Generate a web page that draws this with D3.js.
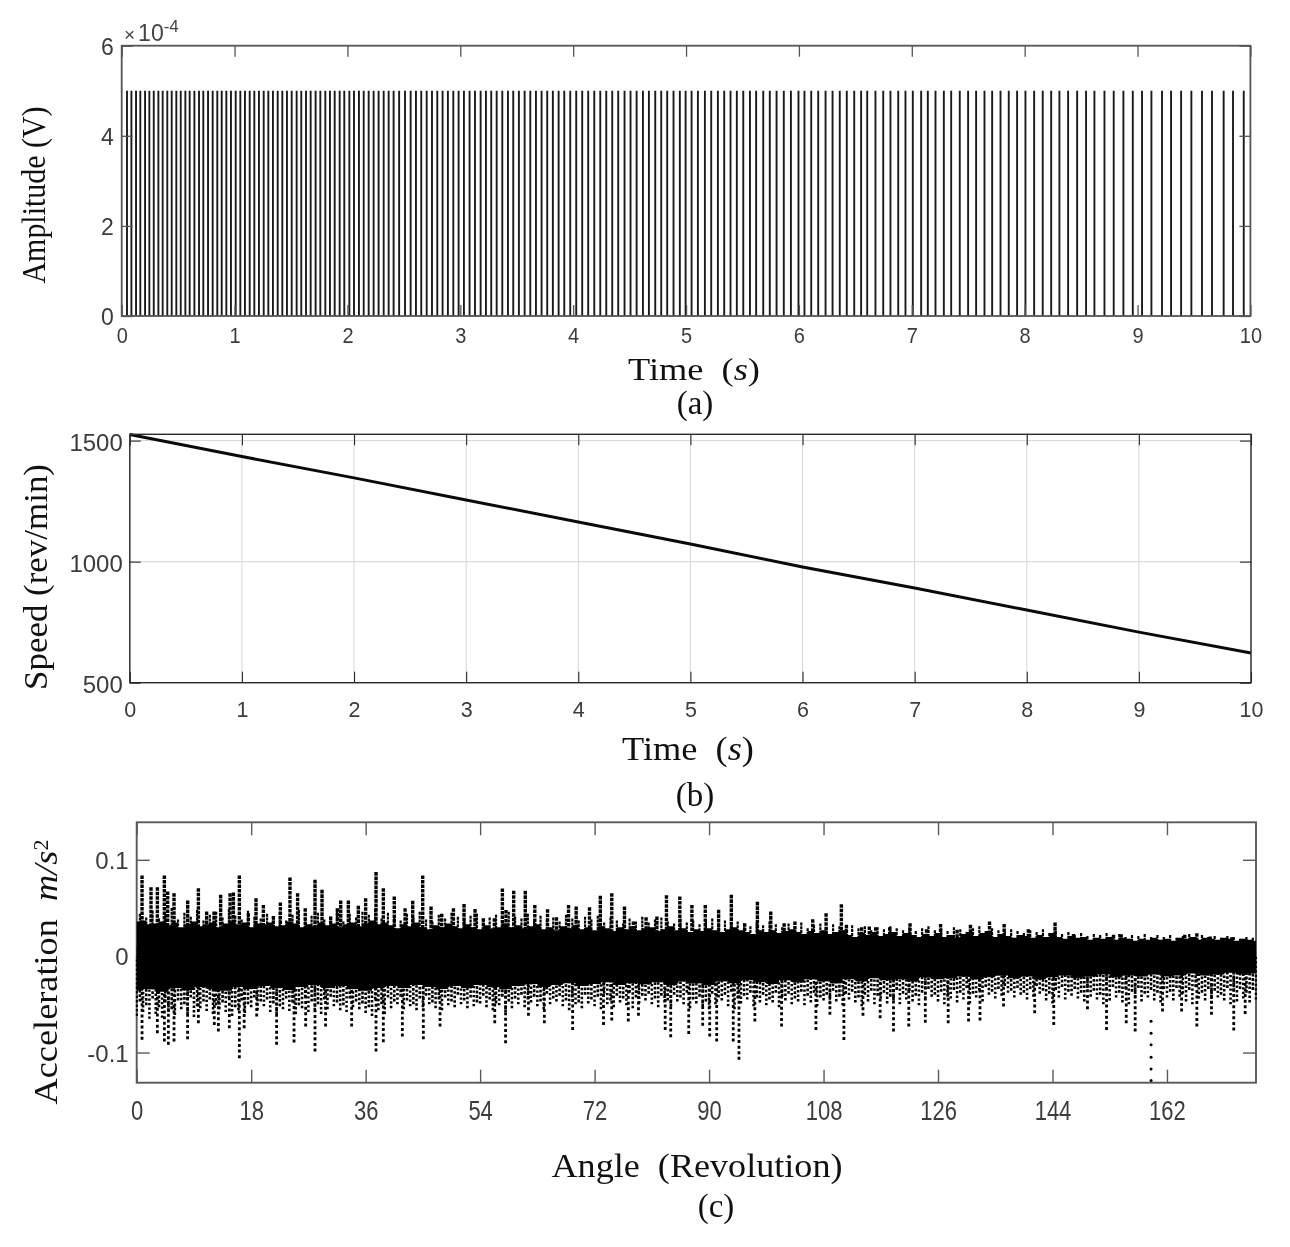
<!DOCTYPE html>
<html>
<head>
<meta charset="utf-8">
<script src="https://cdn.jsdelivr.net/npm/d3@7"></script>
<style>
	html, body { margin: 0; padding: 0; background: #fff; }
	svg { display: block; filter: blur(0.45px); }
</style>
</head>
<body>
<div id="chart"></div>
<script>
// panel (a) - one pulse per revolution, times (s)
var pulseTimes = [
	0.047,0.086,0.127,0.165,0.207,0.245,0.284,0.325,0.363,0.404,0.443,0.484,0.523,0.564,0.602,
	0.644,0.685,0.723,0.765,0.806,0.847,0.886,0.927,0.968,1.010,1.051,1.092,1.134,1.175,1.216,1.258,
	1.299,1.340,1.382,1.423,1.464,1.506,1.550,1.591,1.633,1.674,1.718,1.760,1.804,1.845,1.887,1.931,
	1.972,2.017,2.058,2.102,2.144,2.188,2.232,2.276,2.321,2.365,2.409,2.458,2.510,2.560,2.607,2.654,
	2.702,2.749,2.796,2.843,2.890,2.938,2.985,3.032,3.082,3.130,3.180,3.227,3.274,3.322,3.372,3.422,
	3.469,3.519,3.570,3.620,3.670,3.720,3.770,3.820,3.871,3.921,3.974,4.027,4.080,4.133,4.187,4.240,
	4.293,4.346,4.399,4.455,4.508,4.562,4.618,4.671,4.727,4.780,4.833,4.889,4.945,4.996,5.049,5.105,
	5.167,5.223,5.282,5.338,5.394,5.450,5.507,5.566,5.621,5.684,5.742,5.802,5.866,5.929,5.996,6.049,
	6.109,6.171,6.236,6.298,6.362,6.424,6.490,6.551,6.605,6.678,6.747,6.811,6.880,6.944,7.009,7.083,
	7.142,7.210,7.284,7.349,7.425,7.499,7.570,7.644,7.712,7.786,7.859,7.933,8.007,8.084,8.160,8.235,
	8.308,8.385,8.465,8.544,8.618,8.707,8.789,8.875,8.958,9.040,9.123,9.217,9.297,9.386,9.477,9.571,
	9.660,9.763,9.846,9.941
];
var pulseHeight = 5e-4;
var ampTicks = [0, 2e-4, 4e-4, 6e-4];
var timeTicks = [0,1,2,3,4,5,6,7,8,9,10];

// panel (b)
var speedTimes = [0,1,2,3,4,5,6,7,8,9,10];
var speedValues = [1525,1434,1346,1255,1164,1073,978,891,800,709,623];
var speedTicks = [500,1000,1500];

// panel (c) - solid band edges, then speckle and spikes around it
var upperEdge = [
	.036,.037,.033,.034,.036,.032,.035,.030,.033,.036,.031,.033,.035,.030,.034,.036,.033,.035,.030,.034,
	.033,.035,.031,.032,.036,.034,.030,.033,.031,.035,.032,.034,.030,.033,.035,.031,.034,.037,.033,.035,
	.032,.029,.033,.031,.035,.030,.028,.032,.030,.034,.031,.029,.033,.030,.028,.032,.029,.030,.034,.030,
	.032,.029,.031,.033,.028,.030,.027,.031,.029,.032,.028,.030,.027,.031,.029,.026,.030,.028,.031,.027,
	.029,.030,.026,.028,.031,.027,.029,.025,.028,.026,.029,.027,.025,.028,.030,.027,.025,.023,.027,.025,
	.027,.024,.026,.028,.025,.023,.026,.024,.027,.023,.025,.027,.022,.020,.024,.022,.025,.021,.023,.025,
	.021,.024,.022,.020,.023,.021,.024,.020,.022,.019,.023,.025,.021,.024,.026,.020,.023,.021,.019,.022,
	.021,.019,.022,.020,.024,.020,.018,.021,.019,.020,.017,.019,.018,.020,.017,.019,.018,.016,.018,.017,
	.019,.017,.018,.016,.019,.018,.020,.017,.019,.018,.017,.019,.018,.016,.018,.017,.016
];
// small peaks on top of the band, half a revolution after each whole one
var upperFringe = [
	.044,.040,.047,.039,.043,.050,.038,.045,.041,.048,.037,.043,.046,.040,.049,.042,.038,.047,.041,.039,
	.044,.040,.046,.037,.043,.048,.039,.042,.045,.038,.041,.047,.036,.044,.040,.046,.043,.049,.039,.045,
	.041,.037,.044,.040,.046,.038,.036,.043,.039,.045,.041,.037,.042,.044,.038,.040,.043,.037,.046,.041,
	.039,.044,.036,.042,.038,.040,.036,.043,.039,.037,.041,.038,.042,.035,.040,.037,.034,.039,.036,.041,
	.035,.038,.040,.036,.034,.039,.035,.037,.033,.036,.039,.034,.037,.032,.036,.034,.031,.035,.032,.036,
	.033,.030,.034,.031,.035,.029,.032,.034,.030,.033,.031,.028,.032,.029,.031,.027,.030,.028,.031,.029,
	.027,.030,.026,.029,.031,.027,.029,.026,.030,.028,.025,.029,.031,.026,.029,.027,.025,.028,.026,.024,
	.027,.025,.028,.024,.026,.023,.025,.022,.024,.021,.023,.022,.024,.021,.023,.020,.022,.021,.023,.020,
	.022,.020,.022,.019,.021,.023,.020,.022,.020,.021,.019,.021,.020,.018,.020,.019
];
// every 2 revolutions
var lowerEdge = [
	-.036,-.034,-.037,-.033,-.035,-.032,-.034,-.036,-.032,-.034,-.031,-.033,-.035,-.032,-.030,-.033,-.031,-.034,-.036,-.033,
	-.031,-.033,-.030,-.032,-.034,-.031,-.033,-.030,-.032,-.034,-.031,-.029,-.032,-.030,-.028,-.031,-.029,-.027,-.030,-.028,
	-.029,-.027,-.030,-.026,-.028,-.030,-.026,-.028,-.025,-.027,-.029,-.025,-.027,-.024,-.026,-.028,-.024,-.026,-.023,-.025,
	-.024,-.026,-.022,-.024,-.023,-.021,-.024,-.022,-.020,-.023,-.021,-.024,-.022,-.020,-.023,-.021,-.019,-.022,-.020,-.021,
	-.019,-.021,-.020,-.018,-.020,-.019,-.017,-.019,-.018
];
var fringe = [
	-.062,-.058,-.065,-.060,-.064,-.058,-.061,-.055,-.060,-.063,-.054,-.057,-.060,-.055,-.058,-.062,-.056,-.059,-.053,-.056,
	-.052,-.058,-.060,-.055,-.057,-.060,-.054,-.058,-.056,-.060,-.055,-.052,-.056,-.058,-.053,-.055,-.059,-.062,-.056,-.060,
	-.054,-.050,-.055,-.052,-.056,-.053,-.050,-.054,-.056,-.051,-.053,-.050,-.054,-.052,-.049,-.053,-.056,-.051,-.058,-.054,
	-.050,-.053,-.048,-.052,-.055,-.050,-.047,-.052,-.056,-.050,-.054,-.049,-.052,-.055,-.050,-.053,-.048,-.051,-.054,-.049,
	-.046,-.050,-.053,-.048,-.052,-.047,-.050,-.054,-.049,-.052,-.055,-.050,-.046,-.052,-.055,-.049,-.045,-.052,-.048,-.051,
	-.048,-.053,-.046,-.050,-.047,-.051,-.048,-.052,-.046,-.050,-.047,-.051,-.045,-.048,-.052,-.047,-.050,-.044,-.049,-.046,
	-.050,-.045,-.047,-.051,-.044,-.042,-.047,-.050,-.044,-.048,-.045,-.049,-.043,-.047,-.040,-.044,-.041,-.038,-.043,-.040,
	-.045,-.042,-.039,-.046,-.049,-.043,-.045,-.041,-.044,-.047,-.042,-.045,-.050,-.046,-.043,-.048,-.050,-.044,-.047,-.043,
	-.046,-.048,-.043,-.046,-.042,-.047,-.050,-.044,-.046,-.049,-.043,-.046,-.050,-.047,-.044,-.048,-.045
];
// second speckle row, half a revolution after each whole one
var fringeInner = [
	-.047,-.051,-.044,-.053,-.048,-.055,-.046,-.050,-.043,-.052,-.047,-.045,-.051,-.048,-.044,-.053,-.046,-.050,-.043,-.047,
	-.045,-.049,-.052,-.044,-.048,-.051,-.043,-.047,-.050,-.045,-.042,-.048,-.051,-.044,-.047,-.049,-.053,-.045,-.050,-.043,
	-.047,-.042,-.046,-.050,-.044,-.041,-.048,-.045,-.043,-.047,-.040,-.046,-.043,-.048,-.041,-.045,-.049,-.042,-.047,-.044,
	-.040,-.045,-.042,-.047,-.039,-.044,-.041,-.046,-.043,-.048,-.040,-.045,-.042,-.039,-.046,-.041,-.044,-.038,-.043,-.041,
	-.039,-.044,-.041,-.046,-.040,-.043,-.038,-.045,-.042,-.047,-.039,-.043,-.040,-.037,-.044,-.041,-.038,-.043,-.040,-.045,
	-.038,-.042,-.039,-.044,-.037,-.041,-.038,-.043,-.040,-.036,-.042,-.039,-.037,-.043,-.040,-.036,-.041,-.038,-.042,-.035,
	-.039,-.036,-.041,-.038,-.034,-.040,-.037,-.042,-.035,-.038,-.033,-.039,-.036,-.032,-.037,-.034,-.031,-.036,-.033,-.038,
	-.034,-.031,-.036,-.039,-.035,-.032,-.037,-.034,-.038,-.033,-.036,-.040,-.035,-.032,-.038,-.034,-.037,-.033,-.039,-.035,
	-.038,-.034,-.037,-.033,-.039,-.035,-.032,-.038,-.034,-.036,-.040,-.033,-.037,-.034,-.038,-.035
];
var upRev = [
	0.84,2.25,3.25,4.35,4.87,5.87,8.02,9.7,11,12.16,13.2,14.68,15.2,16.14,17.56,18.76,19.92,21.49,22.59,24.1,
	25.3,26.5,28.04,29.14,30.5,31.55,32.08,33.28,34.85,36,37.63,38.78,40.5,42.2,43.4,44.97,46.28,47.96,49.8,51.47,
	53.2,54.5,56.24,57.5,58.07,59.28,61.1,62.6,64.6,66,67.9,69.1,71.2,72.9,74.7,76.7,78.1,80.1,81.8,83.3,
	85.4,87.3,89.4,91.5,93.5,95.6,97.6,99.7,101.8,103.5,106.3,108.4,110.8,111.6,114,115.2,116.2,118.4,121.6,124.2,
	126.4,129,131.1,134.1,136.4,140.2,144.4,147.3,153.6,154.8,164.8,166.7,168.8,172.2
];
var upVal = [
	.0837,.0716,.0716,.0837,.0671,.0653,.0577,.0705,.0463,.0463,.0636,.0653,.066,.0837,.0446,.06,.0532,.0418,.0557,.0817,
	.0653,.0498,.0792,.0688,.0411,.0498,.0577,.0577,.0522,.0602,.0872,.0705,.0619,.0498,.0574,.0837,.0515,.044,.0498,.054,
	.0489,.0394,.0394,.0702,.0479,.068,.0678,.0532,.0487,.0404,.0532,.0515,.0508,.0626,.0653,.0515,.036,.0404,.0411,.0633,
	.0619,.0532,.0532,.0481,.0636,.0342,.0564,.0463,.0342,.036,.0384,.0446,.0539,.0325,.03,.0308,.03,.03,.0342,.028,
	.0335,.0273,.0325,.036,.0335,.028,.0349,.0231,.0221,.0228,.0221,.0238,.0204,.0197
];
var downRev = [
	0.84,3.25,4.35,4.98,5.87,8,9.7,12.2,12.84,14.57,16.14,16.9,18.87,22,24.74,26.57,28.04,29.7,33.8,37.63,
	38.78,41.77,45.07,47.7,56.3,58,61.6,64.1,68.55,73.4,74.7,77.3,78.9,83.1,83.97,86.8,89,90.1,91.2,93.8,
	94.7,97.2,101.4,106.8,109,111.2,114.2,116.9,119,121.4,124,127.6,130.8,132.6,136.3,141.2,144.2,149.5,152.5,155.6,
	157,161.3,164.3,166.7,169,172.5,174.3
];
var downVal = [
	-.0868,-.08,-.0886,-.092,-.0886,-.0862,-.0696,-.0713,-.0782,-.0748,-.1059,-.0748,-.0627,-.092,-.0897,-.073,-.099,-.073,-.073,-.099,
	-.0893,-.0834,-.0862,-.073,-.0696,-.0903,-.0619,-.0696,-.0765,-.0713,-.0668,-.0678,-.0619,-.0765,-.0841,-.0807,-.0723,-.0834,-.0886,-.0886,
	-.1076,-.0678,-.073,-.0765,-.0609,-.0869,-.0619,-.0644,-.0782,-.073,-.0692,-.0696,-.0678,-.0668,-.0523,-.0592,-.0713,-.055,-.0765,-.0696,
	-.0782,-.0575,-.0575,-.073,-.0609,-.0772,-.0599
];
var deepDotRev = [159.5,159.5,159.5,159.5,159.5,159.5];
var deepDotVal = [-.0675,-.080,-.092,-.105,-.117,-.129];
var accTicks = [-0.1,0,0.1];
var revTicks = [0,18,36,54,72,90,108,126,144,162];

var labelFont = '"Liberation Sans", Arial, sans-serif';
var titleFont = '"Liberation Serif", serif';

var svg = d3.select('#chart').append('svg').attr('width', 1290).attr('height', 1247);

// box axes the way matlab does them: ticks inside, on all four sides
function drawBox(x, y, opts) {
	var g = svg.append('g').attr('class', 'box');
	var x0 = x.range()[0], x1 = x.range()[1], y0 = y.range()[0], y1 = y.range()[1];

	var bottom = g.append('g').attr('transform', 'translate(0,' + y0 + ')')
		.call(d3.axisBottom(x).tickValues(opts.xTicks).tickSize(-opts.tick).tickSizeOuter(0).tickPadding(opts.xPad));
	var left = g.append('g').attr('transform', 'translate(' + x0 + ',0)')
		.call(d3.axisLeft(y).tickValues(opts.yTicks).tickSize(-opts.tick).tickSizeOuter(0).tickPadding(opts.yPad).tickFormat(opts.yFormat));
	g.append('g').attr('transform', 'translate(0,' + y1 + ')')
		.call(d3.axisTop(x).tickValues(opts.xTicks).tickSize(-opts.tick).tickSizeOuter(0).tickFormat(''));
	g.append('g').attr('transform', 'translate(' + x1 + ',0)')
		.call(d3.axisRight(y).tickValues(opts.yTicks).tickSize(-opts.tick).tickSizeOuter(0).tickFormat(''));

	g.selectAll('.domain').remove();
	g.selectAll('line').attr('stroke', opts.color).attr('stroke-width', opts.tickWidth);
	bottom.selectAll('text').attr('font-family', labelFont).attr('font-size', opts.xSize).attr('fill', '#3c3c3c')
		.attr('transform', 'scale(1,' + opts.xTall + ')');
	left.selectAll('text').attr('font-family', labelFont).attr('font-size', opts.ySize).attr('fill', '#3c3c3c').attr('dy', opts.yDy);

	g.append('rect').attr('x', x0).attr('y', y1).attr('width', x1 - x0).attr('height', y0 - y1)
		.attr('fill', 'none').attr('stroke', opts.color).attr('stroke-width', opts.frame);
}

// serif captions, len pins the width seen in the reference
function caption(cx, cy, rotate, size, parts, len) {
	var t = svg.append('text')
		.attr('transform', 'translate(' + cx + ',' + cy + ')' + (rotate ? ' rotate(-90)' : ''))
		.attr('text-anchor', 'middle')
		.attr('font-family', titleFont)
		.attr('font-size', size)
		.attr('fill', '#111')
		.style('white-space', 'pre');
	if (len) t.attr('textLength', len).attr('lengthAdjust', 'spacingAndGlyphs');
	parts.forEach(function (p) {
		var s = t.append('tspan').text(p.text);
		if (p.italic) s.attr('font-style', 'italic');
		if (p.up) s.attr('dy', p.up).attr('font-size', p.size);
	});
	return t;
}

// ---- panel a
var xA = d3.scaleLinear().domain([0, 10]).range([121.7, 1250.4]);
var yA = d3.scaleLinear().domain([0, 6e-4]).range([316, 45.7]);

svg.append('g').selectAll('line')
	.data(pulseTimes)
	.enter()
	.append('line')
	.attr('x1', function (d) { return xA(d); })
	.attr('x2', function (d) { return xA(d); })
	.attr('y1', yA(0))
	.attr('y2', yA(pulseHeight))
	.attr('stroke', '#1a1a1a')
	.attr('stroke-width', 1.9);

drawBox(xA, yA, {
	xTicks: timeTicks, yTicks: ampTicks, tick: 11, xPad: 10, yPad: 8, color: '#555', tickWidth: 1.3, frame: 1.8,
	xSize: 20, xTall: 1.1, ySize: 23, yDy: '.38em', yFormat: function (d) { return Math.round(d / 1e-4); }
});

var exp = svg.append('text').attr('x', 124).attr('y', 41).attr('font-family', labelFont).attr('fill', '#444').attr('font-size', 23);
exp.append('tspan').text('×').attr('font-size', 19);
exp.append('tspan').text('10').attr('dx', 3);
exp.append('tspan').text('-4').attr('font-size', 17).attr('dy', -9);

caption(694, 380, false, 31, [{ text: 'Time  (' }, { text: 's', italic: true }, { text: ')' }], 132);
caption(695, 414, false, 33, [{ text: '(a)' }]);
caption(45, 195, true, 33, [{ text: 'Amplitude (V)' }], 177);

// ---- panel b
var xB = d3.scaleLinear().domain([0, 10]).range([129.8, 1251]);
var yB = d3.scaleLinear().domain([500, 1526]).range([682.7, 434.3]);

svg.append('g').selectAll('line.gx')
	.data(timeTicks)
	.enter()
	.append('line')
	.attr('x1', function (d) { return xB(d); })
	.attr('x2', function (d) { return xB(d); })
	.attr('y1', yB.range()[0])
	.attr('y2', yB.range()[1])
	.attr('stroke', '#d6d6d6')
	.attr('stroke-width', 1);
svg.append('g').selectAll('line.gy')
	.data(speedTicks)
	.enter()
	.append('line')
	.attr('x1', xB.range()[0])
	.attr('x2', xB.range()[1])
	.attr('y1', function (d) { return yB(d); })
	.attr('y2', function (d) { return yB(d); })
	.attr('stroke', '#d6d6d6')
	.attr('stroke-width', 1);

var speedLine = d3.line()
	.x(function (d, i) { return xB(speedTimes[i]); })
	.y(function (d) { return yB(d); });
svg.append('path').attr('d', speedLine(speedValues)).attr('fill', 'none').attr('stroke', '#0a0a0a').attr('stroke-width', 3);

drawBox(xB, yB, {
	xTicks: timeTicks, yTicks: speedTicks, tick: 11, xPad: 17, yPad: 7, color: '#2a2a2a', tickWidth: 1.1, frame: 1.4,
	xSize: 21.5, xTall: 1.05, ySize: 24, yDy: '.42em', yFormat: function (d) { return d; }
});

caption(688, 760, false, 34, [{ text: 'Time  (' }, { text: 's', italic: true }, { text: ')' }], 132);
caption(695, 806, false, 33, [{ text: '(b)' }]);
caption(47, 577, true, 33, [{ text: 'Speed (rev/min)' }], 226);

// ---- panel c
var xC = d3.scaleLinear().domain([0, 176]).range([136.7, 1256]);
var yC = d3.scaleLinear().domain([-0.1313, 0.1389]).range([1082.7, 822.3]);

drawBox(xC, yC, {
	xTicks: revTicks, yTicks: accTicks, tick: 13, xPad: 14, yPad: 8, color: '#5a5a5a', tickWidth: 1.4, frame: 1.9,
	xSize: 22, xTall: 1.25, ySize: 24, yDy: '.36em', yFormat: function (d) { return d === 0 ? '0' : d; }
});

svg.append('defs').append('clipPath').attr('id', 'clipC').append('rect')
	.attr('x', xC.range()[0] - 1).attr('y', yC.range()[1])
	.attr('width', xC.range()[1] - xC.range()[0] + 2).attr('height', yC.range()[0] - yC.range()[1]);
var gC = svg.append('g').attr('clip-path', 'url(#clipC)');

// stems start at the tip so the dash phase differs from one to the next
function stems(revs, vals, width, dash) {
	gC.append('g').selectAll('line')
		.data(vals)
		.enter()
		.append('line')
		.attr('x1', function (d, i) { return xC(revs[i]); })
		.attr('x2', function (d, i) { return xC(revs[i]); })
		.attr('y1', function (d) { return yC(d); })
		.attr('y2', yC(0))
		.attr('stroke', '#000')
		.attr('stroke-width', width)
		.attr('stroke-dasharray', dash);
}

stems(fringe.map(function (d, i) { return i; }), fringe, 2.6, '2.4 2.1');
stems(fringeInner.map(function (d, i) { return i + 0.5; }), fringeInner, 2.6, '2.8 1.7');
stems(upperFringe.map(function (d, i) { return i + 0.5; }), upperFringe, 2.2, '3 .8');
stems(upRev, upVal, 3.4, '3.6 .9');
stems(downRev, downVal, 2.8, '3 2.6');

gC.append('path')
	.attr('d', d3.area().curve(d3.curveStep)
		.x(function (d, i) { return xC(i); })
		.y0(yC(-0.01))
		.y1(function (d) { return yC(d); })(upperEdge))
	.attr('fill', '#000');
gC.append('path')
	.attr('d', d3.area().curve(d3.curveStep)
		.x(function (d, i) { return xC(i * 2); })
		.y0(yC(0.01))
		.y1(function (d) { return yC(d); })(lowerEdge))
	.attr('fill', '#000');

gC.append('g').selectAll('circle')
	.data(deepDotVal)
	.enter()
	.append('circle')
	.attr('cx', function (d, i) { return xC(deepDotRev[i]); })
	.attr('cy', function (d) { return yC(d); })
	.attr('r', 1.5)
	.attr('fill', '#000');

caption(697, 1177, false, 34, [{ text: 'Angle  (Revolution)' }], 291);
caption(716, 1217, false, 33, [{ text: '(c)' }]);
caption(57, 972, true, 33, [{ text: 'Acceleration  ' }, { text: 'm/s', italic: true }, { text: '2', up: -9, size: 20 }], 265);
</script>
</body>
</html>
